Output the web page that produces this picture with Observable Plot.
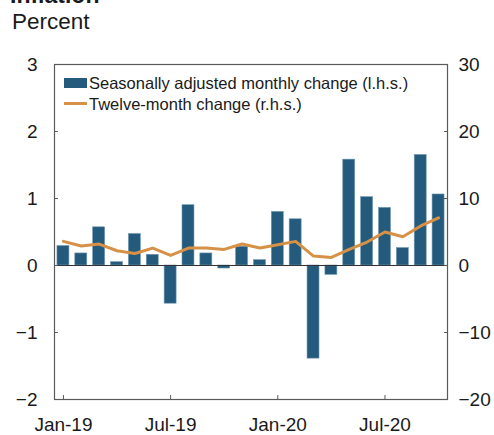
<!DOCTYPE html>
<html>
<head>
<meta charset="utf-8">
<script src="https://cdn.jsdelivr.net/npm/d3@7"></script>
<script src="https://cdn.jsdelivr.net/npm/@observablehq/plot@0.6"></script>
<style>
  html, body { margin: 0; padding: 0; background: #fff; }
  #wrap { position: relative; width: 494px; height: 435px; overflow: hidden; font-family: "Liberation Sans", Arial, sans-serif; color: #1a1a1a; }
  .abs { position: absolute; line-height: 1; white-space: nowrap; }
  #chart { position: absolute; left: 0; top: 40px; }
</style>
</head>
<body>
<div id="wrap">
  <div class="abs" style="left:10px; top:-16px; font-size:23px; font-weight:bold;">Inflation</div>
  <div class="abs" style="left:12px; top:11px; font-size:22.5px;">Percent</div>
  <div id="chart"></div>
  <div class="abs" style="left:64px; top:78px; width:23px; height:10px; background:#245a7c;"></div>
  <div class="abs" style="left:89px; top:75px; font-size:16.5px;" id="leg1"></div>
  <div class="abs" style="left:64px; top:102px; width:23px; height:3px; background:#d69146;"></div>
  <div class="abs" style="left:89px; top:96px; font-size:16.5px;" id="leg2"></div>
</div>
<script>
const months = ["Jan-19","Feb-19","Mar-19","Apr-19","May-19","Jun-19","Jul-19","Aug-19","Sep-19","Oct-19","Nov-19","Dec-19",
                "Jan-20","Feb-20","Mar-20","Apr-20","May-20","Jun-20","Jul-20","Aug-20","Sep-20","Oct-20"];
const monthlyChange = [0.29,0.18,0.57,0.05,0.47,0.16,-0.57,0.90,0.18,-0.045,0.28,0.08,
                       0.80,0.69,-1.39,-0.14,1.58,1.02,0.86,0.26,1.65,1.06];
const twelveMonthChange = [3.6,2.9,3.2,2.2,1.8,2.6,1.5,2.6,2.6,2.4,3.2,2.6,
                           3.1,3.6,1.4,1.2,2.4,3.5,5.0,4.3,5.9,7.1];
const xTickLabels = ["Jan-19","Jul-19","Jan-20","Jul-20"];
const leftTicks = [-2,-1,0,1,2,3];
const leftTickLabels = ["\u22122","\u22121","0","1","2","3"];
const rightTickLabels = ["\u221220","\u221210","0","10","20","30"];
const seriesNames = ["Seasonally adjusted monthly change (l.h.s.)", "Twelve-month change (r.h.s.)"];

document.getElementById("leg1").textContent = seriesNames[0];
document.getElementById("leg2").textContent = seriesNames[1];

const data = months.map((m, i) => ({month: m, mom: monthlyChange[i], yoy: twelveMonthChange[i]}));

const barColor = "#245a7c";
const lineColor = "#d69146";
const axisColor = "#5a5a5a";

const chart = Plot.plot({
  width: 494,
  height: 395,
  marginTop: 24,
  marginBottom: 36,
  marginLeft: 54,
  marginRight: 47,
  style: {fontFamily: "'Liberation Sans', Arial, sans-serif", fontSize: "19px", color: "#1a1a1a", background: "transparent"},
  x: {type: "band", domain: months, paddingInner: 0.33, paddingOuter: 0.165, round: false},
  y: {domain: [-2, 3]},
  marks: [
    Plot.barY(data, {x: "month", y: "mom", fill: barColor, stroke: "#6f98b3", strokeWidth: 0.6}),
    Plot.ruleY([0], {stroke: "#333", strokeWidth: 1.2}),
    Plot.line(data, {x: "month", y: d => d.yoy / 10, stroke: lineColor, strokeWidth: 3}),
    Plot.frame({stroke: axisColor, strokeWidth: 1.2}),
    Plot.axisY(leftTicks, {anchor: "left", tickSize: -4, tickPadding: 21, stroke: axisColor, fontSize: 19, label: null,
      tickFormat: d => leftTickLabels[leftTicks.indexOf(d)]}),
    Plot.axisY(leftTicks, {anchor: "right", tickSize: -4, tickPadding: 15, stroke: axisColor, fontSize: 19, label: null,
      tickFormat: d => rightTickLabels[leftTicks.indexOf(d)]}),
    Plot.axisX(xTickLabels, {anchor: "bottom", tickSize: -4, tickPadding: 22, stroke: axisColor, fontSize: 19, label: null})
  ]
});
document.getElementById("chart").appendChild(chart);
</script>
</body>
</html>
